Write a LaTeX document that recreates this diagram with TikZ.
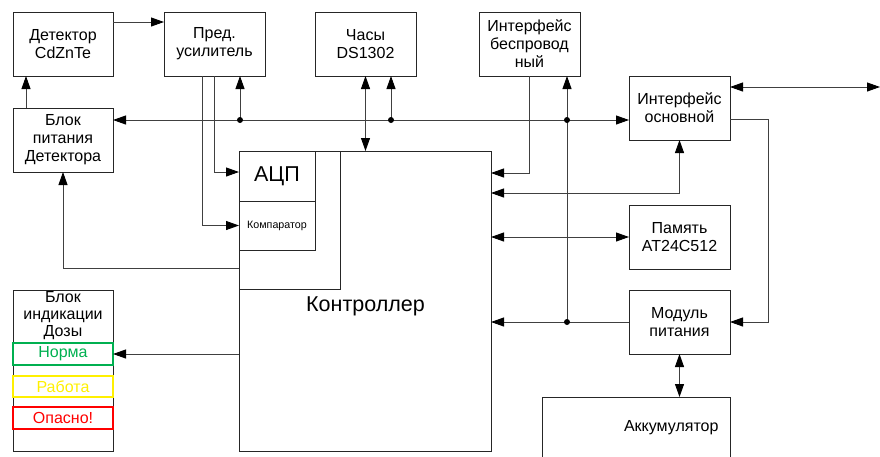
\documentclass[tikz,border=0pt]{standalone}
\usepackage{fontspec}
\setmainfont{Liberation Sans}
\usetikzlibrary{arrows.meta,calc}
\definecolor{okgreen}{RGB}{0,176,80}
\definecolor{wkyellow}{RGB}{255,240,0}
\definecolor{dgred}{RGB}{255,0,0}
\begin{document}
\begin{tikzpicture}[x=1pt,y=-1pt,
  box/.style={draw=black!85, line width=1pt, inner sep=0pt, outer sep=0pt, align=center,
              font=\fontsize{16}{18}\selectfont},
  std/.style={box, minimum width=101pt, minimum height=64pt},
  ind/.style={box, minimum width=100pt, line width=1.2pt},
  ln/.style={draw=black!75, line width=0.9pt},
  tip/.tip={Triangle[length=13pt,width=9pt,color=black]},
  arr/.style={ln,-tip},
  arrs/.style={ln,tip-tip},
  jdot/.style={circle, fill=black, inner sep=0pt, minimum size=6pt}
]
\useasboundingbox (0,0) rectangle (880,456);

% boxes
\node[std, minimum width=100pt] (det) at (63,44) {Детектор\\CdZnTe};
\node[std] (pre) at (214.5,44) {Пред.\\усилитель};
\node[std] (clk) at (365.5,44) {Часы\\DS1302};
\node[std] (wif) at (529.5,44) {Интерфейс\\беспровод\\ный};
\node[std, minimum width=100pt] (pwd) at (63,140) {Блок\\питания\\Детектора};
\node[std] (ifm) at (679.5,108) {Интерфейс\\основной};
\node[std] (mem) at (679.5,237) {Память\\AT24C512};
\node[std] (pmod) at (679.5,322) {Модуль\\питания};
\node[box, minimum width=188pt, minimum height=60pt] (acc) at (636,427) {};
\node[font=\fontsize{16}{18}\selectfont, anchor=east] (acclbl) at (722,428) {Аккумулятор};

% controller
\node[box, minimum width=252pt, minimum height=300pt] (ctrl) at (365,301) {};
\node[font=\fontsize{21.5}{25}\selectfont] (ctrllbl) at (365.5,306) {Контроллер};
\node[box, minimum width=101pt, minimum height=138pt] (inner) at (289.5,220) {};
\node[box, minimum width=76pt, minimum height=50pt, font=\fontsize{21.5}{25}\selectfont] (adc) at (277,176) {АЦП};
\node[box, minimum width=76pt, minimum height=49pt, font=\fontsize{10.7}{12}\selectfont] (cmp) at (277,225.5) {Компаратор};

% indication block
\node[box, minimum width=100pt, minimum height=161pt] (ind) at (63,370.5) {};
\node[font=\fontsize{16}{17}\selectfont, align=center] (indlbl) at (63,316) {Блок\\индикации\\Дозы};
\node[ind, draw=okgreen, text=okgreen, minimum height=22pt] (norm) at (63,354) {Норма};
\node[ind, draw=wkyellow, text=wkyellow, minimum height=21pt] (work) at (63,386.5) {Работа};
\node[ind, draw=dgred, text=dgred, minimum height=22pt] (dang) at (63,418) {Опасно!};

% junctions
\coordinate (j1) at (240,120);
\coordinate (j2) at (391,120);
\coordinate (j3) at (567,120);
\coordinate (j4) at (567,322);
\coordinate (ext) at (880,87);

% connectors
\draw[arr] ([yshift=-10pt]det.north east) -- ([yshift=-10pt]pre.north west);
\draw[arr] ([xshift=13pt]pwd.north west) -- ([xshift=13pt]det.south west);
\draw[arrs] (pwd.east |- j1) -- (ifm.west |- j1);
\draw[arr] (j1) -- (j1 |- pre.south);
\draw[arr] (j2) -- (j2 |- clk.south);
\draw[arr] (j4) -- (j3 |- wif.south);
\draw[arr] ([xshift=50pt]pre.south west) |- ([yshift=4pt]adc.west);
\draw[arr] ([xshift=38pt]pre.south west) |- (cmp.west);
\draw[arrs] (clk.south) -- (clk.south |- ctrl.north);
\draw[arr] (wif.south) |- ([yshift=-22pt]ctrl.north east);
\draw[arrs] (ifm.south) |- ([yshift=-42pt]ctrl.north east);
\draw[arrs] (ctrl.east |- mem.west) -- (mem.west);
\draw[arr] ([yshift=-11pt]ifm.east) -- ++(38,0) |- (pmod.east);
\draw[arrs] ([yshift=21pt]ifm.east) -- (ext);
\draw[arr] (pmod.west) -- (ctrl.east |- pmod.west);
\draw[arrs] (pmod.south) -- (pmod.south |- acc.north);
\draw[arr] ([yshift=33pt]ctrl.west) -| (pwd.south);
\draw[arr] (ctrl.west |- norm.east) -- (norm.east);

\node[jdot] (d1) at (j1) {};
\node[jdot] (d2) at (j2) {};
\node[jdot] (d3) at (j3) {};
\node[jdot] (d4) at (j4) {};
\end{tikzpicture}
\end{document}
